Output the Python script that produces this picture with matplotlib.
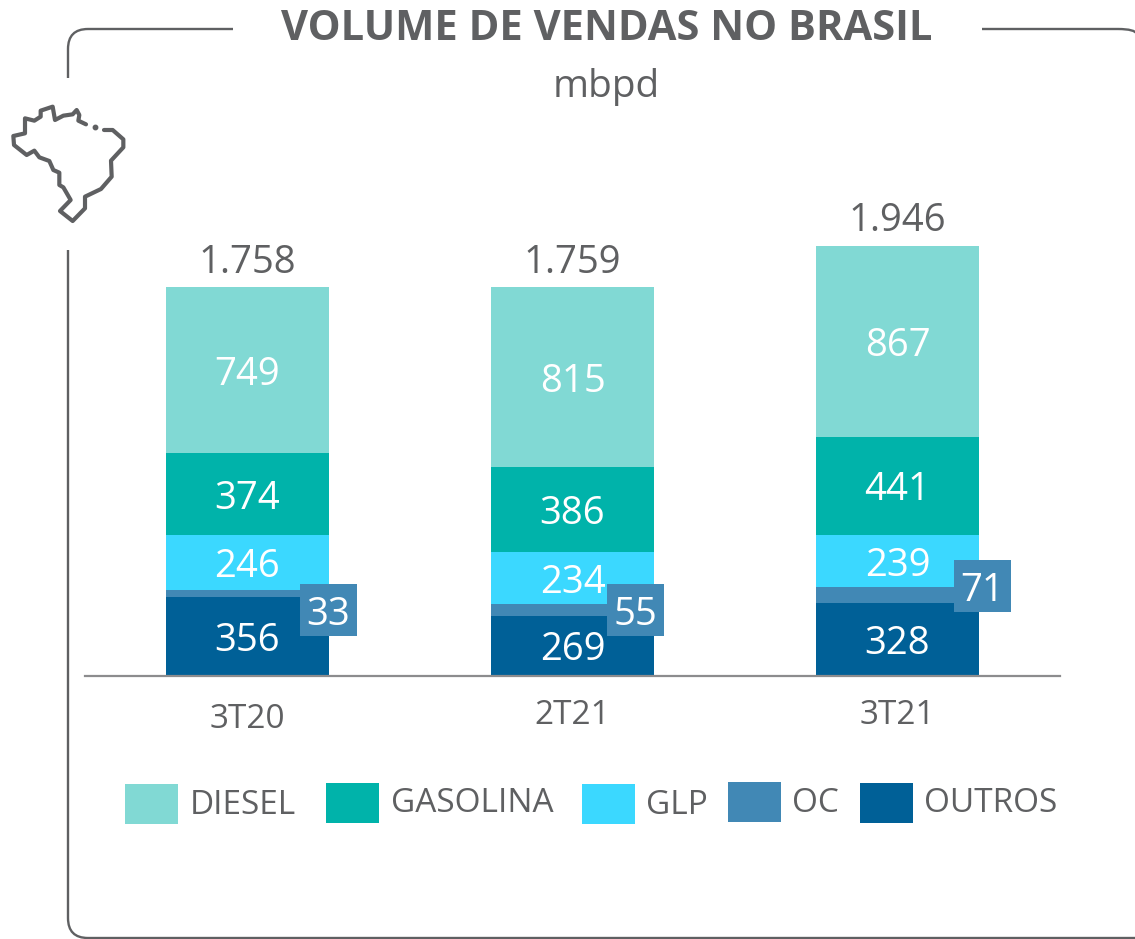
import matplotlib
matplotlib.use("Agg")
import matplotlib.pyplot as plt
from matplotlib.patches import Rectangle, PathPatch
from matplotlib.path import Path
from matplotlib.transforms import ScaledTranslation

W, H = 1135, 939
DPI = 100
FONT = "Open Sans"
TXT = "#5f6062"

quarters = ["3T20", "2T21", "3T21"]
outros = [356, 269, 328]
oc = [33, 55, 71]
glp = [246, 234, 239]
gasolina = [374, 386, 441]
diesel = [749, 815, 867]
totals = ["1.758", "1.759", "1.946"]
series_names = ["OUTROS", "OC", "GLP", "GASOLINA", "DIESEL"]
series_values = [outros, oc, glp, gasolina, diesel]
series_colors = ["#006097", "#4188b5", "#3bd8ff", "#00b3aa", "#81d9d4"]

plt.rcParams["font.family"] = [FONT, "DejaVu Sans"]
fig = plt.figure(figsize=(W / DPI, H / DPI), dpi=DPI, facecolor="white")

# pixel-space overlay (y down) for frame, icon, legend
ov = fig.add_axes([0, 0, 1, 1], zorder=3)
ov.set_xlim(0, W); ov.set_ylim(H, 0); ov.axis("off")
ov.patch.set_alpha(0)

# chart axes: baseline at y=675.5 px, x from 85 to 1060 px
ax_top_px, ax_base_px = 190, 675.5
ax = fig.add_axes([85 / W, 1 - ax_base_px / H, 975 / W, (ax_base_px - ax_top_px) / H], zorder=2)
ax.patch.set_alpha(0)
ax.set_xlim(-0.5, 2.5)
ax.set_ylim(0, (ax_base_px - ax_top_px) / 0.2208)
for s in ("top", "left", "right"):
    ax.spines[s].set_visible(False)
ax.spines["bottom"].set_color("#8c8c8e")
ax.spines["bottom"].set_linewidth(1.6)
ax.set_yticks([])
ax.set_xticks(range(3), quarters)
ax.tick_params(axis="x", length=0, pad=17, labelsize=24, labelcolor=TXT)
lab0 = ax.get_xticklabels()[0]
lab0.set_transform(lab0.get_transform() + ScaledTranslation(0, -4 / DPI, fig.dpi_scale_trans))

bottoms = [0, 0, 0]
for name, vals, col in zip(series_names, series_values, series_colors):
    bars = ax.bar(range(3), vals, width=0.5, bottom=bottoms, color=col, label=name, linewidth=0)
    if name != "OC":
        for i, v in enumerate(vals):
            ax.text(i, bottoms[i] + v / 2, str(v), ha="center", va="center_baseline",
                    color="white", fontsize=27.5)
    bottoms = [b + v for b, v in zip(bottoms, vals)]

for i, t in enumerate(totals):
    ax.annotate(t, (i, bottoms[i]), xytext=(0, 29 * 0.72), textcoords="offset points",
                ha="center", va="center_baseline", color=TXT, fontsize=27.5, annotation_clip=False)

# OC callout boxes: offset of box centre from the OC segment centre, in px
oc_offsets = [(81, -17), (63, 0), (85, 9)]
cum = [o + c / 2 for o, c in zip(outros, oc)]
for i, v in enumerate(oc):
    dx, dy = oc_offsets[i]
    ax.annotate(str(v), (i, cum[i]), xytext=(dx * 0.72, dy * 0.72), textcoords="offset points",
                ha="center", va="center_baseline", color="white", fontsize=27.5, zorder=6,
                annotation_clip=False)
    px = ax.transData.transform((i, cum[i]))
    cx, cy = px[0] + dx, H - px[1] - dy
    ax.add_patch(Rectangle((cx - 28.5, H - cy - 26), 57, 52, transform=None,
                           facecolor="#4188b5", edgecolor="none", zorder=5))

# frame
r = 20
frame_top_l = [(68, 78), (68, 29 + r), (68, 29), (68 + r, 29), (233, 29)]
ov.add_patch(PathPatch(Path(frame_top_l, [1, 2, 3, 3, 2]), fill=False, edgecolor=TXT, lw=1.7))
frame_top_r = [(982, 29), (1118, 29), (1135, 29), (1137, 34)]
ov.add_patch(PathPatch(Path(frame_top_r, [1, 2, 3, 3]), fill=False, edgecolor=TXT, lw=1.7, clip_on=True))
frame_bot = [(68, 250), (68, 918), (68, 938), (88, 938), (1135, 938)]
ov.add_patch(PathPatch(Path(frame_bot, [1, 2, 3, 3, 2]), fill=False, edgecolor=TXT, lw=1.7))

# title
ov.text(606.5, 30, "VOLUME DE VENDAS NO BRASIL", ha="center", va="center", color=TXT,
        fontsize=30, fontweight="bold")
ov.text(606.5, 87, "mbpd", ha="center", va="center", color=TXT, fontsize=28)

# Brazil icon (outline traced in px)
icon = [(258, 373), (235, 362), (238, 345), (230, 330), (218, 343), (190, 347), (165, 360),
        (158, 320), (122, 332), (122, 350), (103, 362), (75, 355), (75, 400), (40, 408),
        (42, 435), (80, 465), (103, 452), (118, 472), (148, 483), (160, 510), (178, 518),
        (178, 555), (190, 562), (212, 600), (180, 633), (218, 663), (255, 625), (255, 590),
        (303, 567), (335, 530), (333, 482), (370, 442), (370, 418), (338, 390), (312, 390)]
ov.plot([p[0] / 3 for p in icon], [p[1] / 3 for p in icon], color=TXT, lw=3, solid_joinstyle="round",
        solid_capstyle="round")
ov.plot([285 / 3], [381 / 3], "o", color=TXT, ms=3.2)

# legend
legend_names = ["DIESEL", "GASOLINA", "GLP", "OC", "OUTROS"]
legend_colors = ["#81d9d4", "#00b3aa", "#3bd8ff", "#4188b5", "#006097"]
legend_pos = [(125, 784, 190, 806), (326, 783, 391, 804), (582, 784, 646, 805),
              (728, 782, 792, 803), (860, 783, 924, 804)]
for n, c, (sx, sy, tx, ty) in zip(legend_names, legend_colors, legend_pos):
    ov.add_patch(Rectangle((sx, sy), 53, 40, facecolor=c, edgecolor="none"))
    ov.text(tx, ty, n, ha="left", va="center", color=TXT, fontsize=24)

fig.savefig("out.png", dpi=DPI)
